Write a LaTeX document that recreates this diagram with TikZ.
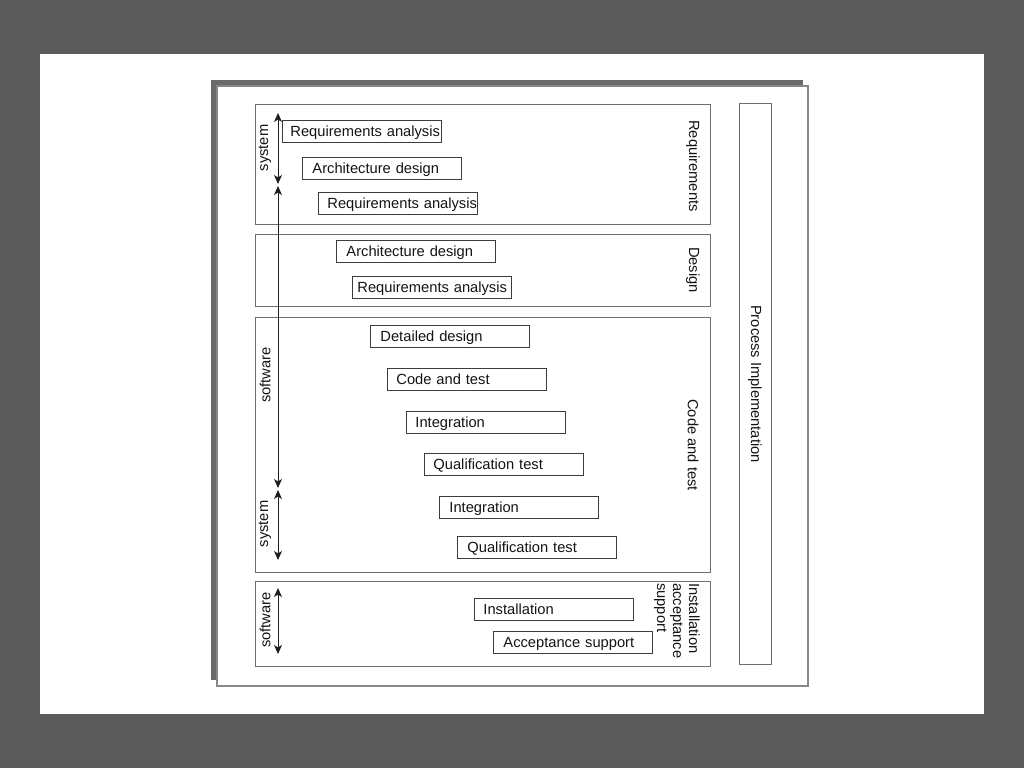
\documentclass[tikz,border=0pt]{standalone}
\usepackage{fontspec}
\setmainfont{Liberation Sans}
\usetikzlibrary{arrows.meta}
\definecolor{bgc}{RGB}{90,90,90}
\definecolor{shadowc}{RGB}{105,105,105}
\definecolor{framec}{RGB}{135,135,135}
\definecolor{phasec}{RGB}{110,110,110}
\definecolor{taskc}{RGB}{60,60,60}
\definecolor{arrc}{RGB}{30,30,30}
\definecolor{txtc}{RGB}{20,20,20}
\newcommand{\fsz}{\fontsize{14.7}{16}\selectfont}
\begin{document}
\begin{tikzpicture}[x=1pt,y=-1pt,
  task/.style 2 args={draw=taskc, line width=0.9pt, anchor=west, minimum height=22pt,
    inner ysep=0pt, inner xsep=#1pt, text width=#2pt, align=left,
    text height=13pt, text depth=2.5pt, font=\fsz, text=txtc},
  phase/.style={draw=phasec, line width=1.2pt, anchor=north west, inner sep=0pt},
  lab/.style={font=\fsz, text=txtc, inner sep=0pt},
  span/.style={draw=arrc, line width=1pt,
    {Stealth[length=9pt,width=8pt,inset=2.5pt]}-{Stealth[length=9pt,width=8pt,inset=2.5pt]}}]
\useasboundingbox (0,0) rectangle (1024,768);
\fill[bgc] (0,0) rectangle (1024,768);
\fill[white] (40,54) rectangle (984,714);
% frame with shadow
\fill[shadowc] (211,80) rectangle (803,680);
\draw[framec, fill=white, line width=1.4pt] (217,86) rectangle (808,686);
% phase boxes
\node[phase, minimum width=455pt, minimum height=120pt] (preq) at (255,104) {};
\node[phase, minimum width=455pt, minimum height=72pt] (pdes) at (255,234) {};
\node[phase, minimum width=455pt, minimum height=255pt] (pcode) at (255,317) {};
\node[phase, minimum width=455pt, minimum height=85pt] (pinst) at (255,581) {};
\node[phase, minimum width=32pt, minimum height=561pt] (pimpl) at (739,103) {};
% phase labels
\node[lab, rotate=-90] (lreq) at (693,166) {Requirements};
\node[lab, rotate=-90] (ldes) at (693,270) {Design};
\node[lab, rotate=-90] (lcode) at (693,445) {Code and test};
\node[lab, rotate=-90, align=left, anchor=north west] (linst) at (700,583) {Installation\\acceptance\\support};
\node[lab, rotate=-90] (limpl) at (755,384) {Process Implementation};
% tasks
\node[task={8}{143}] (t1) at (282,131) {\mbox{Requirements analysis}};
\node[task={10}{139}] (t2) at (302,168.5) {\mbox{Architecture design}};
\node[task={9}{141}] (t3) at (318,203.5) {\mbox{Requirements analysis}};
\node[task={10}{139}] (t4) at (336,251.5) {\mbox{Architecture design}};
\node[task={5}{149}] (t5) at (352,287.5) {\mbox{Requirements analysis}};
\node[task={10}{139}] (t6) at (370,336.5) {\mbox{Detailed design}};
\node[task={9}{141}] (t7) at (387,379) {\mbox{Code and test}};
\node[task={9}{141}] (t8) at (406,422) {\mbox{Integration}};
\node[task={9}{141}] (t9) at (424,464) {\mbox{Qualification test}};
\node[task={10}{139}] (t10) at (439,507) {\mbox{Integration}};
\node[task={10}{139}] (t11) at (457,547.5) {\mbox{Qualification test}};
\node[task={9}{141}] (t12) at (474,609.5) {\mbox{Installation}};
\node[task={10}{139}] (t13) at (493,642.5) {\mbox{Acceptance support}};
% spans
\coordinate (s1a) at (278,113);
\coordinate (s1b) at (278,184);
\coordinate (s2a) at (278,186);
\coordinate (s2b) at (278,488);
\coordinate (s3a) at (278,490);
\coordinate (s3b) at (278,560);
\coordinate (s4a) at (278,588);
\coordinate (s4b) at (278,654);
\draw[span] (s1a) -- (s1b);
\draw[span] (s2a) -- (s2b);
\draw[span] (s3a) -- (s3b);
\draw[span] (s4a) -- (s4b);
\node[lab, rotate=90] (ls1) at (265,148) {system};
\node[lab, rotate=90] (ls2) at (265,375) {software};
\node[lab, rotate=90] (ls3) at (265,524) {system};
\node[lab, rotate=90] (ls4) at (265,620) {software};
\end{tikzpicture}
\end{document}
